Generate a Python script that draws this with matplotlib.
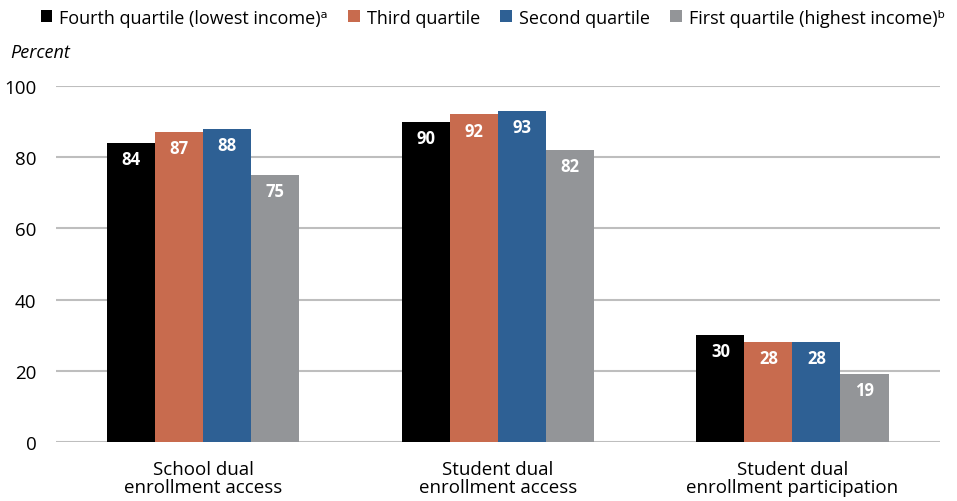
import matplotlib.pyplot as plt
import numpy as np

plt.rcParams['font.family'] = ['Open Sans', 'DejaVu Sans']

categories = ['School dual\nenrollment access', 'Student dual\nenrollment access',
              'Student dual\nenrollment participation']
series = ['Fourth quartile (lowest income)ᵃ', 'Third quartile',
          'Second quartile', 'First quartile (highest income)ᵇ']
values = [
    [84, 90, 30],
    [87, 92, 28],
    [88, 93, 28],
    [75, 82, 19],
]
colors = ['#000000', '#C86B4E', '#2E6094', '#939598']

fig = plt.figure(figsize=(9.57, 5.02), dpi=100)
ax = fig.add_axes([0.0585, 0.1175, 0.9235, 0.7092])

x = np.arange(len(categories))
w = 0.163
for i, (vals, c) in enumerate(zip(values, colors)):
    pos = x + (i - 1.5) * w
    bars = ax.bar(pos, vals, w, color=c, label=series[i], zorder=3)
    for b, v in zip(bars, vals):
        ax.text(b.get_x() + w / 2, v - 2.0, str(v), ha='center', va='top',
                color='white', fontsize=12, fontweight='bold', zorder=4)

ax.set_xlim(-0.5, 2.5)
ax.set_ylim(0, 100)
ax.set_yticks([0, 20, 40, 60, 80, 100])
ax.yaxis.grid(True, color='#BEBEBE', linewidth=1.5, zorder=0)
ax.set_xticks(x)
ax.set_xticklabels(categories, fontsize=13, linespacing=1.0)
ax.tick_params(axis='both', length=0, labelsize=13.5)
ax.tick_params(axis='x', pad=13)
ax.tick_params(axis='y', pad=14)
for s in ax.spines.values():
    s.set_visible(False)

fig.text(0.011, 0.885, 'Percent', fontsize=13, style='italic')

fig.legend(loc='center', bbox_to_anchor=(0.515, 0.963), ncol=4, frameon=False,
           fontsize=13, handlelength=0.65, handleheight=0.65, handletextpad=0.4,
           columnspacing=1.1)

fig.savefig('out.png', dpi=100)
